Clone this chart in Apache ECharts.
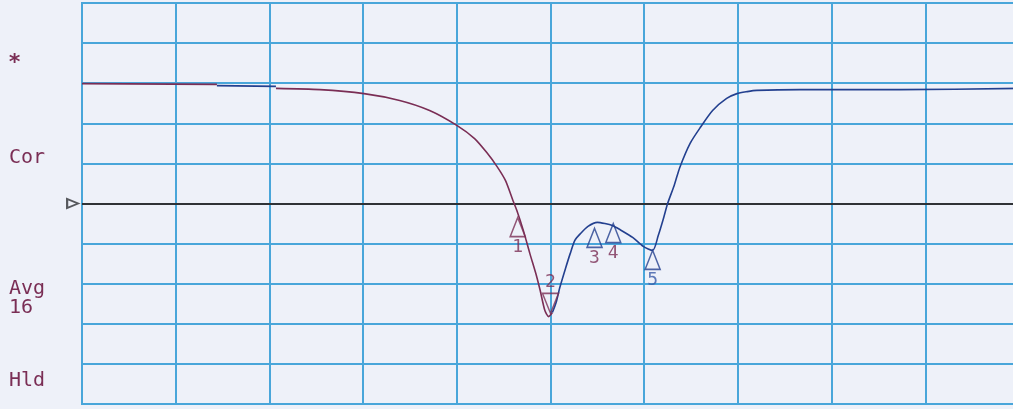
<!DOCTYPE html>
<html>
<head>
<meta charset="utf-8">
<script src="https://cdn.jsdelivr.net/npm/echarts@6/dist/echarts.min.js"></script>
<style>
  html, body { margin: 0; padding: 0; background: #eef1f9; overflow: hidden; }
  /* the graticule runs a few px past the right edge of the photo */
  #chart { width: 1019px; height: 409px; }
</style>
</head>
<body>
<div id="chart"></div>
<script>
// x / y in screen divisions (10 x 10 graticule, reference at 0)
const traceA1 = [[0, 2.99], [1.44, 2.97]];
const traceB1 = [[1.44, 2.94], [2.07, 2.92]];
const traceA2 = [
  [2.07, 2.87], [2.54, 2.84], [3.01, 2.74], [3.39, 2.57], [3.71, 2.32], [4.0, 1.95],
  [4.19, 1.62], [4.32, 1.27], [4.43, 0.92], [4.52, 0.57], [4.6, 0.07], [4.64, -0.17],
  [4.71, -0.67], [4.78, -1.25], [4.85, -1.8], [4.89, -2.17], [4.94, -2.67], [4.98, -2.82],
  [5.02, -2.72]
];
const traceB2 = [
  [5.02, -2.72], [5.06, -2.47], [5.1, -2.09], [5.16, -1.62], [5.21, -1.25], [5.26, -0.92],
  [5.32, -0.75], [5.4, -0.57], [5.5, -0.47], [5.58, -0.5], [5.66, -0.55], [5.74, -0.65],
  [5.88, -0.85], [5.99, -1.07], [6.09, -1.17], [6.15, -0.8], [6.2, -0.42], [6.25, 0],
  [6.32, 0.45], [6.38, 0.9], [6.49, 1.5], [6.6, 1.9], [6.73, 2.32], [6.88, 2.62],
  [6.99, 2.74], [7.1, 2.79], [7.2, 2.82], [7.66, 2.84], [8.73, 2.84], [10, 2.87]
];
// markers
const markerX = [4.65, 5.0, 5.47, 5.67, 6.09];
const markerY = [-0.35, -2.74, -0.62, -0.5, -1.17];
const markerNames = ['1', '2', '3', '4', '5'];
const markerUp = [true, false, true, true, true];
const markerColor = ['#7a2e55', '#7a2e55', '#23408f', '#23408f', '#23408f'];
const labelColor = ['#7a2e55', '#7a2e55', '#7a2e55', '#7a2e55', '#3a5aa8'];
const refLevel = 0;

const maroon = '#7a2e55';
const navy = '#23408f';
const gridBlue = '#49a6da';
const mono = '"DejaVu Sans Mono", "Liberation Mono", monospace';

const chart = echarts.init(document.getElementById('chart'));

const markers = markerX.map((x, i) => ({
  value: [x, markerY[i]],
  symbol: markerUp[i] ? 'triangle' : 'path://M0,0 L10,0 L5,12 Z',
  symbolSize: markerUp[i] ? [15, 19] : [16, 20],
  symbolOffset: [0, markerUp[i] ? '50%' : '-50%'],
  itemStyle: { color: 'rgba(0,0,0,0)', borderColor: markerColor[i], borderWidth: 1.6 },
  label: {
    show: true,
    formatter: markerNames[i],
    position: markerUp[i] ? 'bottom' : 'top',
    distance: 1,
    color: labelColor[i],
    fontFamily: mono,
    fontSize: 18
  }
}));

const lineSeries = (data, color) => ({
  type: 'line',
  data: data,
  showSymbol: false,
  smooth: 0.25,
  lineStyle: { color: color, width: 1.6 },
  z: 5,
  silent: true
});

chart.setOption({
  backgroundColor: '#eef1f9',
  animation: false,
  grid: {
    left: 82, top: 3, right: 0, bottom: 5,
    show: true, borderColor: gridBlue, borderWidth: 2
  },
  xAxis: {
    type: 'value', min: 0, max: 10, interval: 1,
    axisLine: { show: false }, axisTick: { show: false }, axisLabel: { show: false },
    splitLine: { lineStyle: { color: gridBlue, width: 2 } }
  },
  yAxis: {
    type: 'value', min: -5, max: 5, interval: 1,
    axisLine: { show: false }, axisTick: { show: false }, axisLabel: { show: false },
    splitLine: { lineStyle: { color: gridBlue, width: 2 } }
  },
  graphic: [
    { type: 'text', left: 8, top: 52, style: { text: '*', fill: maroon, font: 'bold 22px ' + mono } },
    { type: 'text', left: 9, top: 148, style: { text: 'Cor', fill: maroon, font: '20px ' + mono } },
    { type: 'text', left: 9, top: 279, style: { text: 'Avg\n16', fill: maroon, font: '20px ' + mono, lineHeight: 19 } },
    { type: 'text', left: 9, top: 371, style: { text: 'Hld', fill: maroon, font: '20px ' + mono } }
  ],
  series: [
    {
      type: 'line',
      data: [],
      markLine: {
        silent: true,
        symbol: ['none', 'none'],
        label: { show: false },
        lineStyle: { color: '#2f3236', width: 2, type: 'solid' },
        data: [{ yAxis: refLevel }]
      },
      z: 4
    },
    lineSeries(traceA1, maroon),
    lineSeries(traceB1, navy),
    lineSeries(traceA2, maroon),
    lineSeries(traceB2, navy),
    {
      type: 'scatter',
      data: markers,
      z: 6,
      silent: true
    },
    {
      type: 'scatter',
      data: [[-0.1, refLevel]],
      clip: false,
      symbol: 'triangle',
      symbolRotate: -90,
      symbolSize: [9, 11],
      itemStyle: { color: 'rgba(0,0,0,0)', borderColor: '#2f3236', borderWidth: 2 },
      silent: true,
      z: 6
    }
  ]
});
</script>
</body>
</html>
